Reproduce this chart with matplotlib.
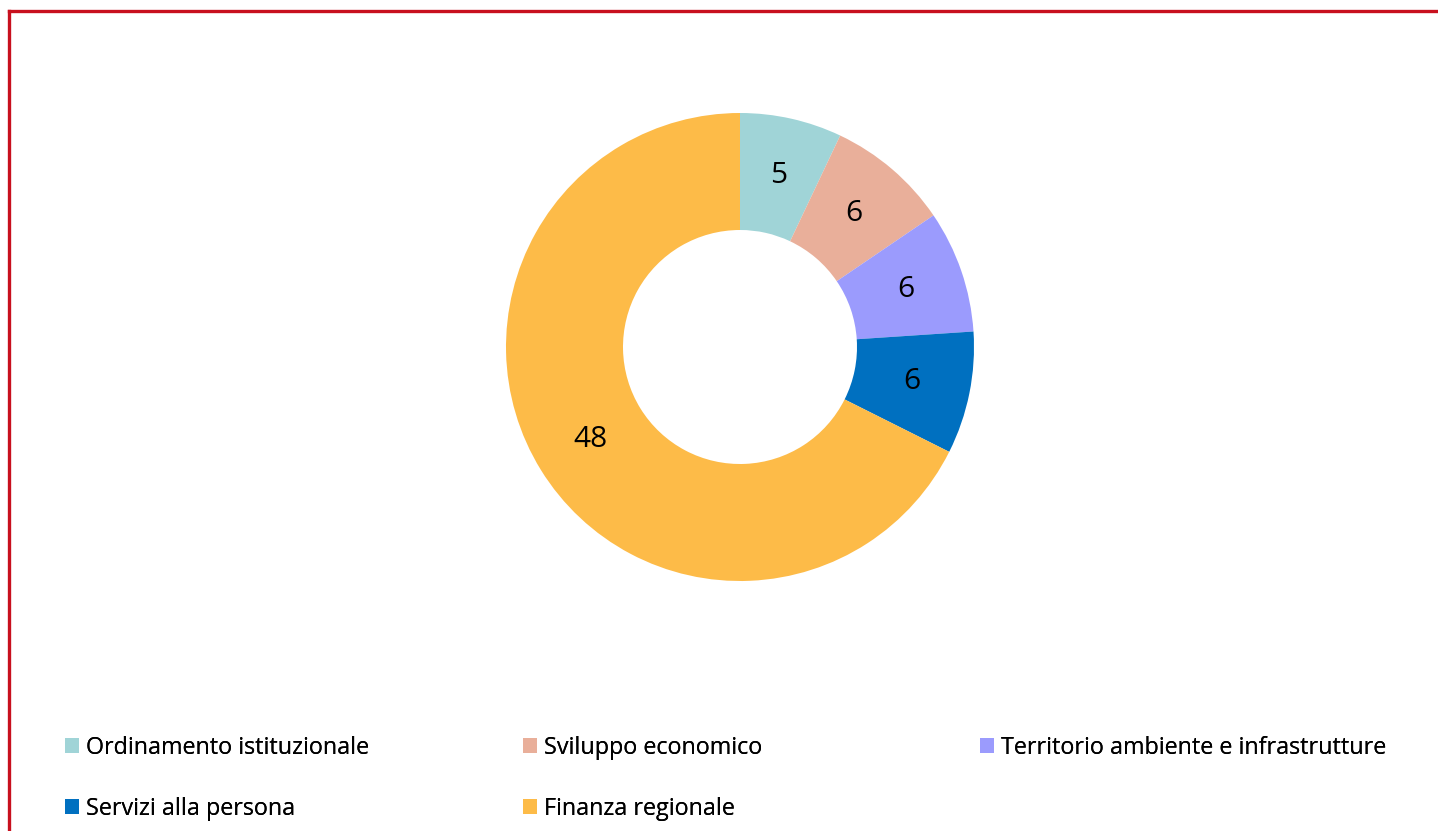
import matplotlib
matplotlib.use("Agg")
import matplotlib.pyplot as plt
from matplotlib.lines import Line2D

plt.rcParams["font.family"] = ["Open Sans", "DejaVu Sans"]

categories = ["Ordinamento istituzionale", "Sviluppo economico",
              "Territorio ambiente e infrastrutture", "Servizi alla persona",
              "Finanza regionale"]
values = [5, 6, 6, 6, 48]
colors = ["#A0D4D7", "#E9AF9A", "#9B9BFD", "#0070C0", "#FDBB48"]

W, H = 1438, 831
fig = plt.figure(figsize=(W / 100, H / 100), dpi=100)
fig.patch.set_facecolor("white")

# red frame (top + left only, runs off the picture)
RED = "#C8101E"
fig.add_artist(Line2D([9 / W, 1], [1 - 10.5 / H] * 2, color=RED, lw=2.4, transform=fig.transFigure))
fig.add_artist(Line2D([9 / W] * 2, [0, 1 - 10.5 / H], color=RED, lw=2.4, transform=fig.transFigure))

cx, cy, r = 740, 347, 234
ax = fig.add_axes([(cx - r) / W, (H - cy - r) / H, 2 * r / W, 2 * r / H])
wedges, _, autotexts = ax.pie(values, colors=colors, startangle=90, counterclock=False,
                              radius=1, wedgeprops=dict(width=0.5, linewidth=0),
                              autopct=lambda p: "%d" % round(p * sum(values) / 100),
                              pctdistance=0.75, textprops=dict(fontsize=21.5, color="black"))
ax.set_xlim(-1, 1); ax.set_ylim(-1, 1); ax.set_aspect("equal")
ax.axis("off")

# legend: three columns placed like the Excel legend
cols = [[0, 3], [1, 4], [2]]
xs = [65, 523, 980]
for idx, x in zip(cols, xs):
    leg = fig.legend([wedges[i] for i in idx], [categories[i] for i in idx],
                     loc="upper left", bbox_to_anchor=(x / W, 1 - 735.5 / H),
                     frameon=False, fontsize=16.8, handlelength=0.6, handleheight=0.6,
                     handletextpad=0.28, labelspacing=1.6, borderpad=0, borderaxespad=0)
    fig.add_artist(leg)

fig.savefig("out.png", dpi=100, facecolor="white")
